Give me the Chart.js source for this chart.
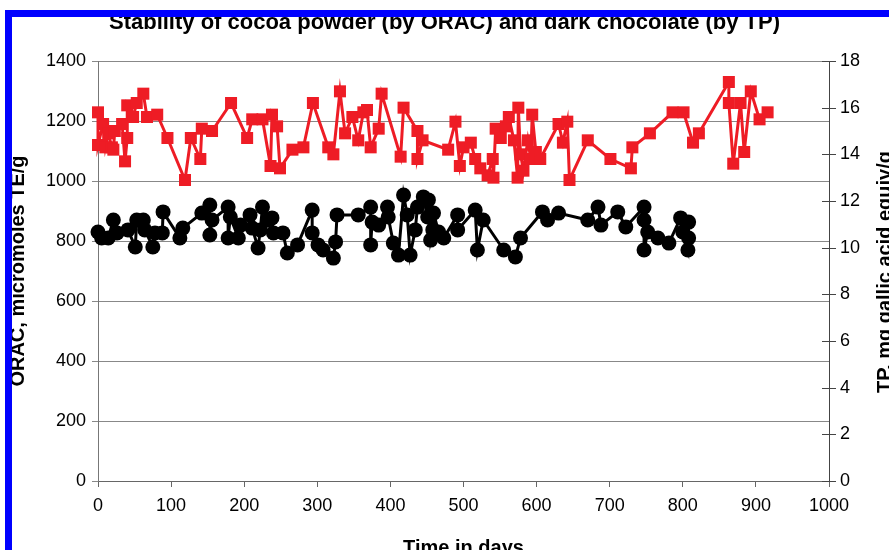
<!DOCTYPE html>
<html>
<head>
<meta charset="utf-8">
<script src="https://cdn.jsdelivr.net/npm/chart.js@4"></script>
<style>
  body { margin: 0; background: #fff; }
  #wrap { position: relative; width: 889px; height: 550px; }
  #frame {
    position: absolute; left: 5px; top: 10px; right: 0; bottom: 0;
    border-left: 7px solid #0000ff; border-top: 7px solid #0000ff;
    pointer-events: none; z-index: 2;
  }
</style>
</head>
<body>
<div id="wrap">
  <canvas id="stabilityChart"></canvas>
  <div id="frame"></div>
</div>
<script>
// dark chocolate, total polyphenols (right axis)
const tpDays = [0, 0, 7, 10, 14, 19, 21, 23, 33, 37, 40, 40, 48, 53, 62, 67, 81, 95, 119, 127,
  140, 142, 156, 182, 204, 211, 225, 236, 238, 245, 249, 266, 281, 294, 315, 322, 331, 338, 348, 356,
  363, 368, 373, 384, 388, 414, 418, 437, 437, 444, 479, 489, 495, 500, 510, 516, 523, 533, 540, 541,
  544, 551, 558, 562, 569, 574, 575, 578, 582, 588, 592, 594, 599, 605, 630, 636, 642, 645, 670, 701,
  729, 731, 755, 786, 801, 814, 822, 863, 863, 869, 879, 884, 893, 905, 916]
const tpValues = [15.8, 14.4, 15.3, 14.3, 14.9, 14.3, 14.2, 15.0, 15.3, 13.7, 14.7, 16.1, 15.6, 16.2, 16.6, 15.6, 15.7, 14.7, 12.9, 14.7,
  13.8, 15.1, 15.0, 16.2, 14.7, 15.5, 15.5, 13.5, 15.7, 15.2, 13.4, 14.2, 14.3, 16.2, 14.3, 14.0, 16.7, 14.9, 15.6, 14.6,
  15.8, 15.9, 14.3, 15.1, 16.6, 13.9, 16.0, 15.0, 13.8, 14.6, 14.2, 15.4, 13.5, 14.3, 14.5, 13.8, 13.4, 13.1, 13.8, 13.0,
  15.1, 14.7, 15.2, 15.6, 14.6, 13.0, 16.0, 14.0, 13.3, 14.6, 13.8, 15.7, 14.1, 13.8, 15.3, 14.5, 15.4, 12.9, 14.6, 13.8,
  13.4, 14.3, 14.9, 15.8, 15.8, 14.5, 14.9, 17.1, 16.2, 13.6, 16.2, 14.1, 16.7, 15.5, 15.8]

// cocoa powder, ORAC (left axis)
const oracDays = [0, 5, 14, 21, 26, 41, 51, 53, 62, 64, 75, 78, 88, 89, 112, 116, 142, 153, 153, 156,
  178, 178, 181, 192, 195, 208, 211, 219, 222, 225, 232, 238, 240, 253, 259, 273, 293, 293, 301, 308,
  322, 325, 327, 356, 373, 373, 375, 384, 396, 397, 404, 411, 418, 423, 427, 434, 437, 445, 451, 452,
  455, 458, 459, 466, 473, 492, 492, 516, 519, 527, 555, 571, 578, 608, 615, 630, 670, 684, 688, 711,
  722, 747, 747, 747, 752, 766, 781, 797, 800, 807, 808, 808]
const oracValues = [830, 810, 810, 870, 827, 837, 780, 870, 870, 837, 780, 827, 827, 897, 810, 843, 893, 920, 820, 870,
  913, 810, 880, 810, 853, 887, 843, 777, 837, 913, 870, 877, 827, 827, 760, 787, 903, 827, 787, 770,
  743, 797, 887, 887, 913, 787, 863, 853, 913, 880, 793, 753, 953, 887, 753, 837, 913, 947, 880, 937,
  803, 837, 893, 830, 810, 887, 837, 903, 770, 870, 770, 747, 810, 897, 870, 893, 870, 913, 853, 897,
  847, 913, 870, 770, 830, 810, 793, 877, 830, 770, 863, 810]

const toPoints = (xs, ys) => xs.map((x, i) => ({ x: x, y: ys[i] }))
const plainTick = (value) => String(value)

Chart.defaults.font.family = "'Liberation Sans', Arial, sans-serif"
Chart.defaults.color = '#000'

// right axis: tick marks crossing the axis line, and its upward title
const rightAxisExtras = {
  id: 'rightAxisExtras',
  afterDraw(chart) {
    const s = chart.scales.y2
    const ctx = chart.ctx
    ctx.save()
    ctx.strokeStyle = '#444'
    ctx.lineWidth = 1
    s.ticks.forEach((t) => {
      const y = Math.round(s.getPixelForValue(t.value)) + 0.5
      ctx.beginPath()
      ctx.moveTo(s.left - 7, y)
      ctx.lineTo(s.left + 7, y)
      ctx.stroke()
    })
    ctx.translate(885, 272)
    ctx.rotate(-Math.PI / 2)
    ctx.font = "bold 20px 'Liberation Sans', Arial, sans-serif"
    ctx.fillStyle = '#000'
    ctx.textAlign = 'center'
    ctx.textBaseline = 'middle'
    ctx.fillText('TP, mg gallic acid equiv/g', 0, 0)
    ctx.restore()
  }
}

new Chart(document.getElementById('stabilityChart'), {
  type: 'line',
  data: {
    datasets: [
      {
        label: 'Dark chocolate (TP)',
        data: toPoints(tpDays, tpValues),
        yAxisID: 'y2',
        borderColor: '#ee1c25',
        backgroundColor: '#ee1c25',
        borderWidth: 3,
        pointStyle: 'rect',
        pointRadius: 8.5,
        pointBorderWidth: 0,
        tension: 0,
        clip: false
      },
      {
        label: 'Cocoa powder (ORAC)',
        data: toPoints(oracDays, oracValues),
        yAxisID: 'y',
        borderColor: '#000',
        backgroundColor: '#000',
        borderWidth: 3,
        pointStyle: 'circle',
        pointRadius: 7.5,
        pointBorderWidth: 0,
        tension: 0,
        clip: false
      }
    ]
  },
  options: {
    responsive: true,
    maintainAspectRatio: false,
    animation: false,
    layout: { padding: 0 },
    plugins: {
      legend: { display: false },
      tooltip: { enabled: false },
      title: {
        display: true,
        text: 'Stability of cocoa powder (by ORAC) and dark chocolate (by TP)',
        font: { size: 22, weight: 'bold' },
        color: '#000',
        padding: { top: 10, bottom: 24.6 }
      }
    },
    scales: {
      x: {
        type: 'linear',
        position: 'bottom',
        min: 0,
        max: 1000,
        ticks: { stepSize: 100, font: { size: 18 }, padding: 8, maxRotation: 0, callback: plainTick },
        grid: { drawOnChartArea: false, drawTicks: true, tickLength: 6, color: '#666' },
        border: { color: '#666' },
        title: {
          display: true,
          text: 'Time in days',
          font: { size: 20, weight: 'bold' },
          padding: { top: 0, bottom: -10 }
        },
        afterFit: (scale) => { scale.height = 69 }
      },
      y: {
        position: 'left',
        min: 0,
        max: 1400,
        ticks: { stepSize: 200, font: { size: 18 }, padding: 6, callback: plainTick },
        grid: { color: '#888', tickLength: 6 },
        border: { color: '#777' },
        title: {
          display: true,
          text: 'ORAC, micromoles TE/g',
          font: { size: 20, weight: 'bold' },
          padding: { top: 6, bottom: 0 }
        },
        afterFit: (scale) => { scale.width = 98 }
      },
      y2: {
        position: 'right',
        min: 0,
        max: 18,
        ticks: { stepSize: 2, font: { size: 18 }, padding: 11, callback: plainTick },
        grid: { drawOnChartArea: false, drawTicks: false },
        border: { display: true, color: '#444' },
        afterFit: (scale) => { scale.width = 60 }
      }
    }
  },
  plugins: [rightAxisExtras]
})
</script>
</body>
</html>
